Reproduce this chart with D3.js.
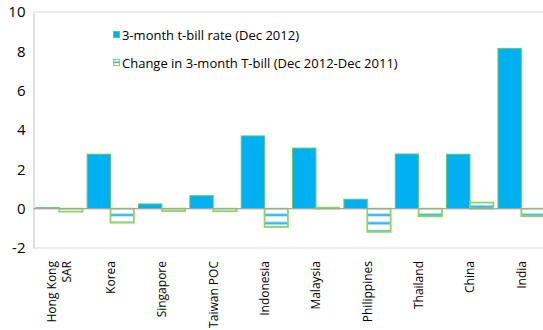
<!DOCTYPE html>
<html>
<head>
<meta charset="utf-8">
<script src="https://cdn.jsdelivr.net/npm/d3@7/dist/d3.min.js"></script>
<style>
  html, body { margin: 0; padding: 0; background: #fff; }
  svg { display: block; font-family: "Open Sans", "Noto Sans", sans-serif; }
</style>
</head>
<body>
<svg id="chart" width="543" height="330"></svg>
<script>
// Economies shown along the category axis
const categories = ["Hong Kong SAR", "Korea", "Singapore", "Taiwan POC", "Indonesia",
                    "Malaysia", "Philippines", "Thailand", "China", "India"];
// 3-month t-bill rate, Dec 2012 (%)
const rateDec2012 = [0.05, 2.77, 0.24, 0.66, 3.70, 3.08, 0.48, 2.78, 2.77, 8.15];
// Change in 3-month T-bill, Dec 2012 vs Dec 2011 (percentage points)
const changeYoY = [-0.15, -0.71, -0.12, -0.13, -0.93, 0.05, -1.18, -0.39, 0.31, -0.38];
// Value-axis ticks
const yTicks = [-2, 0, 2, 4, 6, 8, 10];
const seriesNames = ["3-month t-bill rate (Dec 2012)", "Change in 3-month T-bill (Dec 2012-Dec 2011)"];

const svg = d3.select("#chart");
const plot = { left: 33.5, top: 12, right: 547, bottom: 248 };

const y = d3.scaleLinear().domain([-2, 10]).range([plot.bottom, plot.top]);
const x0 = d3.scaleBand().domain(categories)
  .range([plot.left, plot.right]).paddingInner(0.09).paddingOuter(0.045);
const x1 = d3.scaleBand().domain(["rate", "change"]).range([0, x0.bandwidth()]);

// Striped fill for the change series
const defs = svg.append("defs");
const period = 8.2;
const pat = defs.append("pattern")
  .attr("id", "stripes")
  .attr("patternUnits", "userSpaceOnUse")
  .attr("x", 0).attr("y", 213.4 % period)
  .attr("width", 10).attr("height", period);
pat.append("rect").attr("width", 10).attr("height", period).attr("fill", "#ffffff");
pat.append("rect").attr("y", 0).attr("width", 10).attr("height", 3.2).attr("fill", "#a8dcf5");
pat.append("rect").attr("y", 0.6).attr("width", 10).attr("height", 2).attr("fill", "#2fb8ef");

// Plot-area frame
svg.append("path")
  .attr("d", `M${plot.left},${plot.bottom}H543M${plot.left},${plot.top}H543`)
  .attr("stroke", "#d9d9d9").attr("stroke-width", 1).attr("fill", "none");

// Value axis
const yAxis = d3.axisLeft(y).tickValues(yTicks).tickSize(0).tickPadding(8)
  .tickFormat(d => d);
const gy = svg.append("g").attr("transform", `translate(${plot.left},0)`).call(yAxis);
gy.select(".domain").attr("stroke", "#bfbfbf");
gy.selectAll("text").attr("font-size", 15).attr("fill", "#000")
  .attr("font-family", "'Open Sans', sans-serif");

// Bars
const groups = svg.append("g").selectAll("g")
  .data(categories)
  .join("g")
  .attr("transform", d => `translate(${x0(d)},0)`);

groups.append("rect")
  .attr("x", x1("rate"))
  .attr("width", x1.bandwidth())
  .attr("y", (d, i) => y(Math.max(0, rateDec2012[i])))
  .attr("height", (d, i) => Math.abs(y(rateDec2012[i]) - y(0)))
  .attr("fill", "#00b0f0")
  .attr("stroke", "#62c86a").attr("stroke-width", 1);

groups.append("rect")
  .attr("x", x1("change"))
  .attr("width", x1.bandwidth())
  .attr("y", (d, i) => y(Math.max(0, changeYoY[i])))
  .attr("height", (d, i) => Math.abs(y(changeYoY[i]) - y(0)))
  .attr("fill", "url(#stripes)")
  .attr("stroke", "#8fd461").attr("stroke-width", 1.8);

// Zero line
svg.append("line")
  .attr("x1", plot.left).attr("x2", 543)
  .attr("y1", y(0)).attr("y2", y(0))
  .attr("stroke", "#a6a6a6").attr("stroke-width", 1.2);

// Category labels, rotated
const labels = svg.append("g").selectAll("text")
  .data(categories)
  .join("text")
  .attr("transform", d => `translate(${x0(d) + x0.bandwidth() / 2 + 4.3},261) rotate(-90)`)
  .attr("text-anchor", "end")
  .attr("font-size", 12)
  .attr("fill", "#000");
labels.each(function (d) {
  const t = d3.select(this);
  if (d === "Hong Kong SAR") {
    t.append("tspan").attr("x", 0).attr("dy", -7.5).text("Hong Kong");
    t.append("tspan").attr("x", 0).attr("dy", 15).text("SAR");
  } else {
    t.text(d);
  }
});

// Legend
const legend = svg.append("g");
legend.append("rect").attr("x", 113.5).attr("y", 31.5).attr("width", 6).attr("height", 6)
  .attr("fill", "#00b0f0").attr("stroke", "#62c86a").attr("stroke-width", 1);
legend.append("rect").attr("x", 113.5).attr("y", 59.5).attr("width", 6).attr("height", 6)
  .attr("fill", "#ffffff").attr("stroke", "#8fd461").attr("stroke-width", 1.2);
legend.append("rect").attr("x", 114).attr("y", 61.5).attr("width", 5).attr("height", 1.6)
  .attr("fill", "#2fb8ef");
legend.selectAll("text.lg")
  .data(seriesNames)
  .join("text")
  .attr("class", "lg")
  .attr("x", 122)
  .attr("y", (d, i) => 39.5 + i * 28)
  .attr("font-size", 13)
  .attr("fill", "#000")
  .text(d => d);
</script>
</body>
</html>
